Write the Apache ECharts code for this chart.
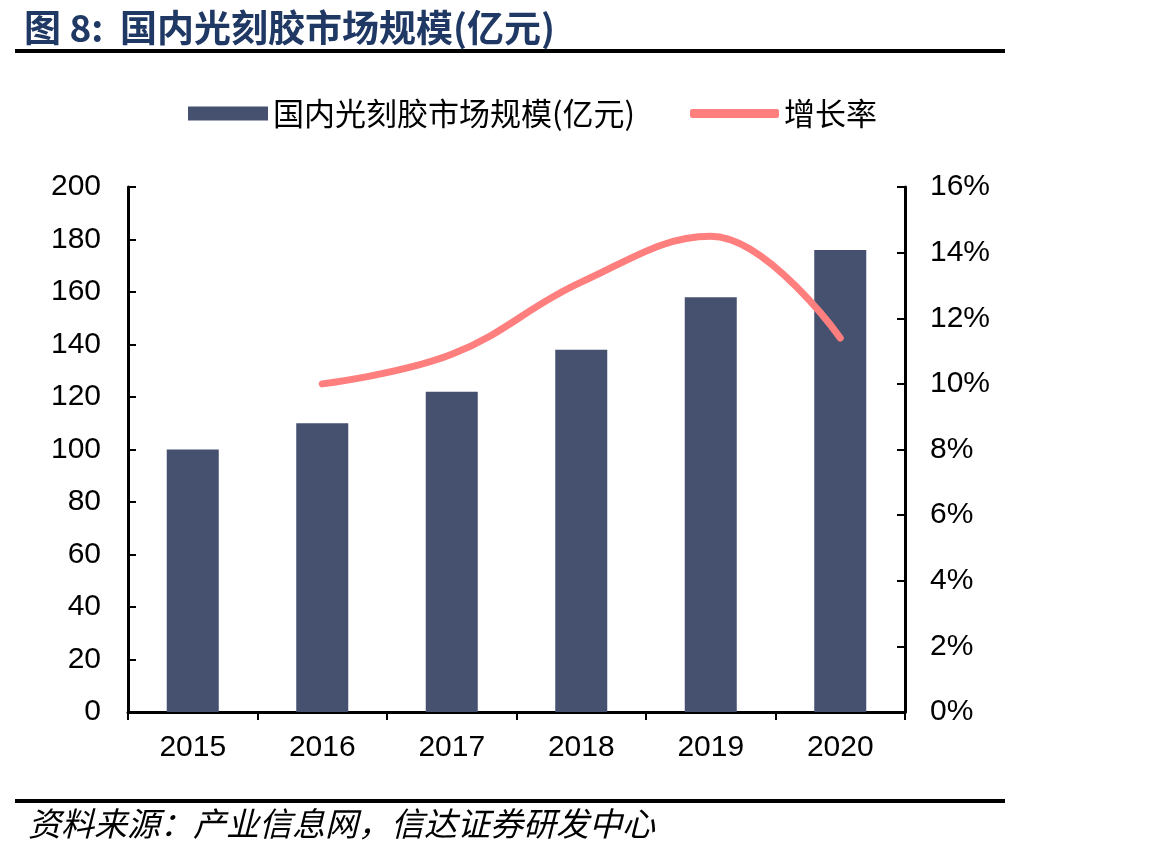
<!doctype html>
<html>
<head>
    <meta charset="utf-8" />
    <script src="https://cdn.jsdelivr.net/npm/echarts@6/dist/echarts.min.js"></script>
    <style>
        html, body { margin: 0; padding: 0; background: #fff; }
        #charts { width: 1165px; height: 857px; }
    </style>
</head>
<body>
<div id="charts"></div>
<script>
const years = ['2015', '2016', '2017', '2018', '2019', '2020'];
const marketSize = [100, 110, 122, 138, 158, 176];   // 亿元
const growthRate = [null, 10.0, 10.9, 13.1, 14.5, 11.4]; // %

const FONT = '"Liberation Sans", Arial, "Noto Sans CJK SC", sans-serif';
const CJK = '"Noto Sans CJK SC", sans-serif';

const myChart = echarts.init(document.getElementById('charts'));
myChart.setOption({
    animation: false,
    title: {
        text: '图 8:  国内光刻胶市场规模(亿元)',
        left: 19,
        top: 4,
        textStyle: { color: '#1f3864', fontSize: 37, fontWeight: 'bold', fontFamily: CJK }
    },
    legend: [{
        left: 183,
        top: 93,
        itemWidth: 80,
        itemHeight: 14,
        itemGap: 10,
        icon: 'rect',
        textStyle: { fontSize: 31, color: '#000', fontFamily: CJK },
        data: ['国内光刻胶市场规模(亿元)']
    }, {
        left: 685,
        top: 93,
        itemWidth: 89,
        itemHeight: 9,
        itemGap: 3,
        icon: 'roundRect',
        textStyle: { fontSize: 31, color: '#000', fontFamily: CJK },
        data: ['增长率']
    }],
    grid: { left: 128, right: 260, top: 187, bottom: 145, containLabel: false },
    xAxis: {
        type: 'category',
        data: years,
        axisLine: { lineStyle: { color: '#000', width: 3 } },
        axisTick: { show: true, inside: false, length: 8, lineStyle: { color: '#000', width: 2 } },
        axisLabel: { margin: 21, fontSize: 30, color: '#000', fontFamily: FONT }
    },
    yAxis: [{
        type: 'value',
        min: 0,
        max: 200,
        interval: 20,
        axisLine: { show: true, lineStyle: { color: '#000', width: 3 } },
        axisTick: { show: true, inside: true, length: 8, lineStyle: { color: '#000', width: 2 } },
        splitLine: { show: false },
        axisLabel: { margin: 27, fontSize: 30, color: '#000', fontFamily: FONT }
    }, {
        type: 'value',
        min: 0,
        max: 16,
        interval: 2,
        position: 'right',
        axisLine: { show: true, lineStyle: { color: '#000', width: 3 } },
        axisTick: { show: true, inside: true, length: 8, lineStyle: { color: '#000', width: 2 } },
        splitLine: { show: false },
        axisLabel: { margin: 25, fontSize: 30, color: '#000', fontFamily: FONT, formatter: '{value}%' }
    }],
    series: [{
        name: '国内光刻胶市场规模(亿元)',
        type: 'bar',
        data: marketSize,
        barWidth: 52,
        itemStyle: { color: '#465170' }
    }, {
        name: '增长率',
        type: 'line',
        yAxisIndex: 1,
        data: growthRate,
        smooth: 0.4,
        showSymbol: false,
        symbol: 'none',
        lineStyle: { color: '#ff7f7f', width: 7, cap: 'round' },
        itemStyle: { color: '#ff7f7f' }
    }],
    graphic: [{
        type: 'rect',
        shape: { x: 15, y: 49, width: 990, height: 4 },
        style: { fill: '#000' }
    }, {
        type: 'rect',
        shape: { x: 15, y: 799, width: 990, height: 4 },
        style: { fill: '#000' }
    }, {
        type: 'text',
        left: 28,
        top: 807,
        style: {
            text: '资料来源：产业信息网，信达证券研发中心',
            font: 'italic 33px "Noto Sans CJK SC", sans-serif',
            fill: '#000'
        }
    }]
});
</script>
</body>
</html>
